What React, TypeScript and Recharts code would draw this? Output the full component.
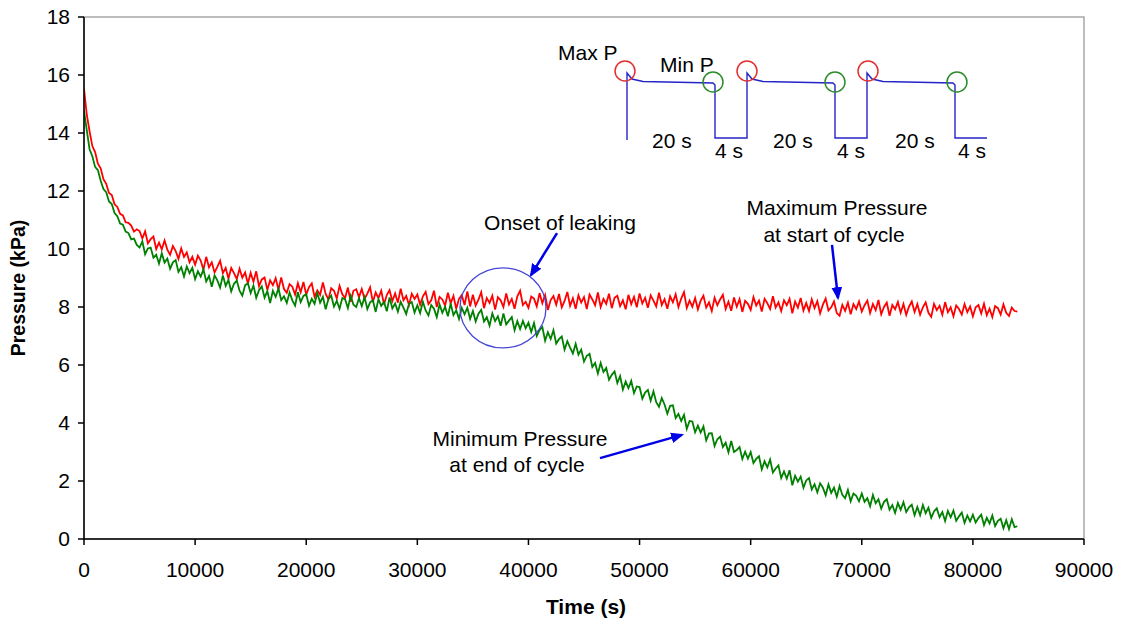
import React from 'react';
import {
  Line,
  LineChart,
  ReferenceArea,
  ReferenceDot,
  ReferenceLine,
  XAxis,
  YAxis,
} from 'recharts';

const FONT = '"Liberation Sans", Arial, sans-serif';

// time in seconds, one sample every 250 s
const timeS = [
  0, 250, 500, 750, 1000, 1250, 1500, 1750, 2000, 2250, 2500, 2750, 3000, 3250, 3500, 3750, 4000, 4250, 4500, 4750,
  5000, 5250, 5500, 5750, 6000, 6250, 6500, 6750, 7000, 7250, 7500, 7750, 8000, 8250, 8500, 8750, 9000, 9250, 9500, 9750,
  10000, 10250, 10500, 10750, 11000, 11250, 11500, 11750, 12000, 12250, 12500, 12750, 13000, 13250, 13500, 13750, 14000, 14250, 14500, 14750,
  15000, 15250, 15500, 15750, 16000, 16250, 16500, 16750, 17000, 17250, 17500, 17750, 18000, 18250, 18500, 18750, 19000, 19250, 19500, 19750,
  20000, 20250, 20500, 20750, 21000, 21250, 21500, 21750, 22000, 22250, 22500, 22750, 23000, 23250, 23500, 23750, 24000, 24250, 24500, 24750,
  25000, 25250, 25500, 25750, 26000, 26250, 26500, 26750, 27000, 27250, 27500, 27750, 28000, 28250, 28500, 28750, 29000, 29250, 29500, 29750,
  30000, 30250, 30500, 30750, 31000, 31250, 31500, 31750, 32000, 32250, 32500, 32750, 33000, 33250, 33500, 33750, 34000, 34250, 34500, 34750,
  35000, 35250, 35500, 35750, 36000, 36250, 36500, 36750, 37000, 37250, 37500, 37750, 38000, 38250, 38500, 38750, 39000, 39250, 39500, 39750,
  40000, 40250, 40500, 40750, 41000, 41250, 41500, 41750, 42000, 42250, 42500, 42750, 43000, 43250, 43500, 43750, 44000, 44250, 44500, 44750,
  45000, 45250, 45500, 45750, 46000, 46250, 46500, 46750, 47000, 47250, 47500, 47750, 48000, 48250, 48500, 48750, 49000, 49250, 49500, 49750,
  50000, 50250, 50500, 50750, 51000, 51250, 51500, 51750, 52000, 52250, 52500, 52750, 53000, 53250, 53500, 53750, 54000, 54250, 54500, 54750,
  55000, 55250, 55500, 55750, 56000, 56250, 56500, 56750, 57000, 57250, 57500, 57750, 58000, 58250, 58500, 58750, 59000, 59250, 59500, 59750,
  60000, 60250, 60500, 60750, 61000, 61250, 61500, 61750, 62000, 62250, 62500, 62750, 63000, 63250, 63500, 63750, 64000, 64250, 64500, 64750,
  65000, 65250, 65500, 65750, 66000, 66250, 66500, 66750, 67000, 67250, 67500, 67750, 68000, 68250, 68500, 68750, 69000, 69250, 69500, 69750,
  70000, 70250, 70500, 70750, 71000, 71250, 71500, 71750, 72000, 72250, 72500, 72750, 73000, 73250, 73500, 73750, 74000, 74250, 74500, 74750,
  75000, 75250, 75500, 75750, 76000, 76250, 76500, 76750, 77000, 77250, 77500, 77750, 78000, 78250, 78500, 78750, 79000, 79250, 79500, 79750,
  80000, 80250, 80500, 80750, 81000, 81250, 81500, 81750, 82000, 82250, 82500, 82750, 83000, 83250, 83500, 83750, 84000,
];

// maximum pressure at start of cycle (kPa)
const maxPressure = [
  15.52, 14.63, 14.06, 13.55, 13.34, 12.94, 12.78, 12.41, 12.25, 11.93, 11.86, 11.54, 11.45, 11.21, 11.16, 10.92, 10.9, 10.81, 10.6, 10.68,
  10.62, 10.36, 10.61, 10.2, 10.34, 10.43, 10.0, 10.22, 9.99, 10.29, 9.98, 9.8, 10.1, 9.93, 9.66, 10.02, 9.73, 9.88, 9.54, 9.73,
  9.46, 9.77, 9.6, 9.29, 9.73, 9.37, 9.54, 9.19, 9.38, 9.59, 9.17, 9.35, 8.98, 9.35, 9.17, 8.96, 9.32, 9.01, 9.19, 8.81,
  9.18, 8.87, 9.23, 8.72, 8.95, 9.02, 8.59, 8.92, 8.75, 8.99, 8.6, 9.02, 8.62, 8.49, 8.79, 8.7, 8.43, 8.82, 8.51, 8.86,
  8.43, 8.68, 8.81, 8.35, 8.57, 8.42, 8.85, 8.45, 8.26, 8.65, 8.56, 8.29, 8.73, 8.44, 8.31, 8.67, 8.18, 8.56, 8.61, 8.34,
  8.62, 8.28, 8.46, 8.68, 8.17, 8.5, 8.31, 8.56, 8.09, 8.41, 8.58, 8.2, 8.47, 8.15, 8.63, 8.23, 8.38, 8.07, 8.46, 8.28,
  8.43, 8.08, 8.37, 8.52, 8.1, 8.23, 8.56, 8.0, 8.35, 8.26, 8.05, 8.49, 8.13, 8.38, 7.94, 8.28, 8.41, 8.07, 8.54, 8.02,
  8.42, 8.05, 8.25, 8.51, 7.96, 8.31, 8.14, 8.39, 7.91, 8.34, 8.23, 8.0, 8.47, 8.09, 8.28, 7.94, 8.37, 8.56, 8.07, 8.18,
  7.97, 8.36, 8.29, 8.02, 8.48, 8.13, 8.41, 7.9, 8.24, 8.38, 8.08, 8.45, 7.99, 8.21, 8.52, 8.04, 8.3, 7.94, 8.4, 8.15,
  8.34, 7.93, 8.43, 8.26, 8.06, 8.5, 8.0, 8.28, 8.11, 8.46, 7.96, 8.32, 8.39, 8.03, 8.23, 7.92, 8.42, 8.1, 8.35, 7.99,
  8.47, 8.12, 8.32, 7.97, 8.4, 8.22, 8.02, 8.49, 8.07, 8.27, 7.94, 8.37, 8.16, 8.44, 8.0, 8.29, 8.51, 7.97, 8.22, 8.01,
  8.31, 7.92, 8.22, 8.39, 7.98, 8.16, 7.86, 8.32, 8.06, 8.26, 8.42, 7.93, 8.18, 7.87, 8.33, 8.01, 8.27, 7.83, 8.21, 8.11,
  7.9, 8.34, 8.05, 8.22, 7.84, 8.28, 8.13, 7.93, 8.37, 7.98, 8.16, 7.86, 8.23, 8.06, 8.28, 7.78, 8.19, 7.98, 8.31, 7.88,
  8.14, 7.86, 8.26, 7.96, 8.2, 7.78, 8.08, 8.29, 7.88, 7.99, 8.19, 7.79, 7.7, 8.07, 7.87, 8.15, 7.75, 8.1, 7.93, 8.19,
  7.84, 8.06, 8.22, 7.79, 8.1, 7.89, 8.24, 7.75, 8.0, 8.15, 7.7, 8.07, 7.92, 8.17, 7.8, 8.1, 7.73, 8.01, 8.19, 7.83,
  8.1, 7.74, 7.99, 8.16, 7.8, 7.66, 8.11, 7.89, 8.04, 7.73, 8.17, 7.82, 7.99, 7.68, 8.05, 7.93, 7.74, 8.1, 7.82, 8.02,
  7.68, 7.99, 8.07, 7.78, 8.11, 7.72, 7.94, 7.65, 8.03, 7.96, 7.74, 8.09, 7.8, 7.69, 7.98, 7.86, 7.84,
];

// minimum pressure at end of cycle (kPa)
const minPressure = [
  14.76, 14.1, 13.44, 13.2, 12.83, 12.72, 12.35, 12.07, 11.96, 11.64, 11.55, 11.24, 11.13, 10.88, 10.84, 10.6, 10.55, 10.33, 10.36, 10.14,
  10.05, 10.26, 9.82, 10.02, 10.05, 9.7, 9.8, 9.5, 9.85, 9.53, 9.67, 9.32, 9.54, 9.62, 9.21, 9.37, 9.05, 9.4, 9.17, 9.35,
  8.96, 9.23, 9.05, 9.29, 8.88, 9.07, 8.7, 9.09, 8.92, 8.67, 9.09, 8.73, 8.93, 8.54, 8.8, 8.91, 8.56, 8.39, 8.75, 8.82,
  8.48, 8.74, 8.32, 8.58, 8.71, 8.32, 8.55, 8.14, 8.56, 8.35, 8.64, 8.24, 8.37, 8.14, 8.5, 8.23, 8.05, 8.51, 8.17, 8.38,
  8.44, 8.04, 8.28, 8.11, 8.48, 8.15, 8.35, 7.92, 8.28, 8.39, 8.01, 8.21, 7.94, 8.31, 8.26, 7.96, 8.39, 8.08, 8.0, 8.3,
  8.03, 8.34, 7.93, 8.16, 8.23, 7.83, 8.27, 8.04, 8.17, 7.85, 8.33, 7.95, 8.12, 7.84, 8.18, 7.98, 7.76, 8.11, 8.17, 7.81,
  8.06, 7.79, 8.18, 7.88, 7.71, 8.07, 7.94, 7.65, 8.09, 7.8, 8.01, 7.68, 8.12, 7.72, 7.89, 7.59, 7.97, 7.75, 7.97, 7.59,
  7.86, 7.5, 7.77, 7.9, 7.5, 7.65, 7.36, 7.78, 7.51, 7.68, 7.35, 7.78, 7.4, 7.53, 7.65, 7.2, 7.51, 7.24, 7.52, 7.27,
  7.46, 7.14, 7.45, 7.0, 7.2, 7.31, 6.84, 7.13, 6.9, 7.2, 6.74, 6.89, 6.98, 6.53, 6.82, 6.6, 6.4, 6.73, 6.36, 6.53,
  6.12, 6.32, 6.39, 5.93, 6.07, 5.71, 6.07, 5.76, 5.9, 5.49, 5.66, 5.78, 5.38, 5.62, 5.15, 5.43, 5.2, 5.45, 5.03, 5.26,
  5.24, 4.84, 5.05, 5.14, 4.77, 5.09, 4.72, 4.56, 4.86, 4.64, 4.32, 4.59, 4.61, 4.17, 4.31, 4.07, 4.28, 3.8, 4.07, 4.05,
  3.68, 3.91, 3.67, 3.88, 3.4, 3.64, 3.65, 3.21, 3.44, 3.53, 3.17, 3.32, 2.99, 3.38, 3.0, 3.07, 3.17, 2.76, 3.01, 2.77,
  3.0, 2.62, 2.76, 2.85, 2.4, 2.68, 2.47, 2.74, 2.29, 2.43, 2.54, 2.1, 2.33, 2.08, 2.37, 1.85, 2.18, 1.98, 2.15, 1.77,
  2.02, 2.1, 1.71, 1.89, 1.61, 1.92, 1.77, 1.51, 1.88, 1.59, 1.77, 1.46, 1.83, 1.52, 1.41, 1.69, 1.3, 1.57, 1.49, 1.3,
  1.57, 1.28, 1.41, 1.13, 1.52, 1.23, 1.37, 1.05, 1.28, 1.37, 1.01, 1.17, 0.9, 1.24, 1.01, 1.27, 0.93, 1.09, 1.18, 0.82,
  1.1, 0.82, 1.17, 0.89, 1.08, 0.73, 0.95, 1.06, 0.75, 0.93, 0.62, 0.97, 0.75, 0.98, 0.63, 0.78, 0.91, 0.56, 0.81, 0.61,
  0.84, 0.57, 0.72, 0.84, 0.48, 0.73, 0.54, 0.81, 0.45, 0.63, 0.7, 0.37, 0.65, 0.34, 0.68, 0.41, 0.44,
];

const xTicks = [0, 10000, 20000, 30000, 40000, 50000, 60000, 70000, 80000, 90000];
const yTicks = [0, 2, 4, 6, 8, 10, 12, 14, 16, 18];

// schematic of the pressure cycle (inset), arbitrary pressure units
const cycleT = [0, 0, 1, 3.2, 17.2, 17.6, 17.6, 24, 24, 25, 27.2, 41.2, 41.6, 41.6, 48, 48, 49, 51.2, 65.2, 65.6, 65.6, 72];
const cycleP = [0, 67, 61, 58.5, 57, 55, 2, 2, 67, 61, 58.5, 57, 55, 2, 2, 67, 61, 58.5, 57, 55, 2, 2];
const maxMarkT = [-0.4, 24, 48.2];
const minMarkT = [17.2, 41.6, 66];

const data = timeS.map((t, i) => ({ t, max: maxPressure[i], min: minPressure[i] }));
const cycleData = cycleT.map((t, i) => ({ t, p: cycleP[i] }));

const Ellipse = (props: any) => (
  <ellipse cx={props.cx} cy={props.cy} rx={43} ry={40} fill="none" stroke="#4646d6" strokeWidth={1.3} />
);

export default function App() {
  const tickStyle = { fill: '#000', fontSize: 21, fontFamily: FONT };
  return (
    <div style={{ position: 'relative', width: 1122, height: 620, background: '#fff' }}>
      <style>{'body{margin:0}'}</style>
      <LineChart width={1122} height={620} data={data} margin={{ top: 17, right: 38, left: 0, bottom: 41 }}>
        <ReferenceArea x1={0} x2={90000} y1={0} y2={18} fill="none" stroke="#a8a8a8" strokeWidth={1.5} />
        <XAxis
          type="number"
          dataKey="t"
          domain={[0, 90000]}
          ticks={xTicks}
          height={40}
          tickSize={6}
          tickMargin={17}
          tick={tickStyle}
          stroke="#000"
          strokeWidth={1.5}
          allowDataOverflow
        />
        <YAxis
          type="number"
          domain={[0, 18]}
          ticks={yTicks}
          width={84}
          tickSize={6}
          tickMargin={8}
          tick={tickStyle}
          stroke="#000"
          strokeWidth={1.5}
        />
        <Line type="linear" dataKey="max" stroke="#ff0000" strokeWidth={1.8} dot={false} isAnimationActive={false} />
        <Line type="linear" dataKey="min" stroke="#008000" strokeWidth={1.8} dot={false} isAnimationActive={false} />
        <ReferenceDot x={37710} y={7.97} r={40} shape={Ellipse} ifOverflow="visible" />
        <ReferenceLine
          segment={[{ x: 42570, y: 10.55 }, { x: 40230, y: 9.1 }]}
          stroke="#0000e6"
          strokeWidth={2.5}
          markerEnd="url(#arrowHead)"
          ifOverflow="visible"
        />
        <ReferenceLine
          segment={[{ x: 67320, y: 10.14 }, { x: 67860, y: 8.31 }]}
          stroke="#0000e6"
          strokeWidth={2.5}
          markerEnd="url(#arrowHead)"
          ifOverflow="visible"
        />
        <ReferenceLine
          segment={[{ x: 46440, y: 2.79 }, { x: 53820, y: 3.59 }]}
          stroke="#0000e6"
          strokeWidth={2.5}
          markerEnd="url(#arrowHead)"
          ifOverflow="visible"
        />
      </LineChart>

      <div style={{ position: 'absolute', left: 597, top: 40 }}>
        <LineChart width={420} height={125} data={cycleData} margin={{ top: 20, right: 10, left: 10, bottom: 25 }}>
          <XAxis type="number" dataKey="t" domain={[-4, 76]} hide />
          <YAxis type="number" domain={[0, 80]} hide />
          <Line type="linear" dataKey="p" stroke="#2424c8" strokeWidth={1.4} dot={false} isAnimationActive={false} />
          {maxMarkT.map((t) => (
            <ReferenceDot key={'mx' + t} x={t} y={69} r={10} fill="none" stroke="#e23030" strokeWidth={1.5} ifOverflow="visible" />
          ))}
          {minMarkT.map((t) => (
            <ReferenceDot key={'mn' + t} x={t} y={58} r={10} fill="none" stroke="#2c8c2c" strokeWidth={1.5} ifOverflow="visible" />
          ))}
        </LineChart>
      </div>

      <svg
        width={1122}
        height={620}
        style={{ position: 'absolute', left: 0, top: 0, pointerEvents: 'none' }}
        fontFamily={FONT}
        fontSize={21}
        fill="#000"
      >
        <defs>
          <marker id="arrowHead" viewBox="0 0 12 10" refX={10} refY={5} markerWidth={13} markerHeight={11} markerUnits="userSpaceOnUse" orient="auto">
            <path d="M0,0 L12,5 L0,10 z" fill="#0000e6" />
          </marker>
        </defs>
        <text x={586} y={614} textAnchor="middle" fontWeight="bold">Time (s)</text>
        <text x={0} y={0} transform="translate(25,288) rotate(-90)" textAnchor="middle" fontWeight="bold" fontSize={19.5}>
          Pressure (kPa)
        </text>

        <text x={560} y={230} textAnchor="middle">Onset of leaking</text>
        <text x={837} y={215} textAnchor="middle">Maximum Pressure</text>
        <text x={834} y={242} textAnchor="middle">at start of cycle</text>
        <text x={520} y={446} textAnchor="middle">Minimum Pressure</text>
        <text x={517} y={472} textAnchor="middle">at end of cycle</text>

        <text x={558} y={60}>Max P</text>
        <text x={660} y={72}>Min P</text>
        <text x={652} y={148}>20 s</text>
        <text x={715} y={158}>4 s</text>
        <text x={773} y={148}>20 s</text>
        <text x={837} y={158}>4 s</text>
        <text x={895} y={148}>20 s</text>
        <text x={958} y={158}>4 s</text>
      </svg>
    </div>
  );
}
